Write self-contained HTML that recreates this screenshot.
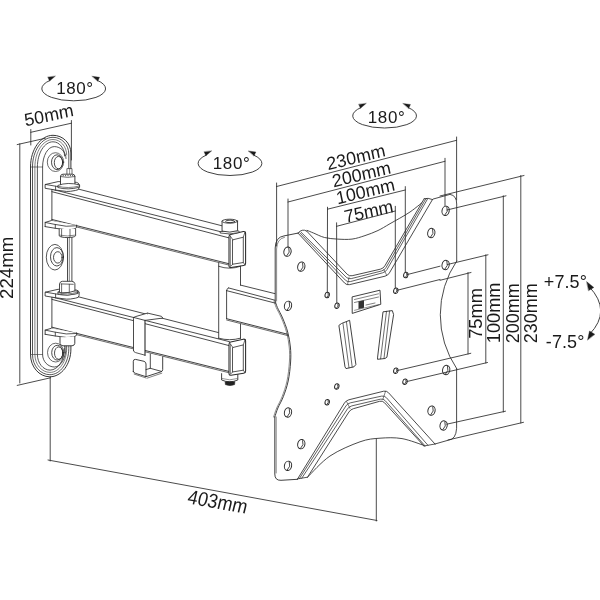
<!DOCTYPE html>
<html><head><meta charset="utf-8"><style>
html,body{margin:0;padding:0;background:#fff;width:600px;height:600px;overflow:hidden}
svg{display:block;-webkit-font-smoothing:antialiased;will-change:transform;font-family:"Liberation Sans",sans-serif}
text{fill:#1a1a1a;stroke:none}
</style></head><body>
<svg width="600" height="600" viewBox="0 0 600 600" fill="none" stroke="#2b2b2b" stroke-width="0.85" stroke-linejoin="round" stroke-linecap="round">
<rect x="0" y="0" width="600" height="600" fill="#fff" stroke="none"/>
<path d="M70.90,290 L70.90,349.00 C70.90,364.35 61.45,376.80 49.80,376.80 C39.15,376.80 30.50,366.81 30.50,354.50 L30.50,167.00 C30.50,149.50 40.58,135.30 53.00,135.30 C62.88,135.30 70.90,143.23 70.90,153.00 L70.90,186" stroke-width="0.95"/>
<path d="M68.80,290 L68.80,348.50 C68.80,362.96 60.33,374.70 49.90,374.70 C40.30,374.70 32.50,365.65 32.50,354.50 L32.50,167.00 C32.50,150.61 41.68,137.30 53.00,137.30 C61.72,137.30 68.80,144.78 68.80,154.00 L68.80,186" stroke-width="0.8"/>
<path d="M66.70,290 L66.70,348.00 C66.70,361.47 59.22,372.40 50.00,372.40 C41.66,372.40 34.90,364.38 34.90,354.50 L34.90,167.00 C34.90,151.82 43.01,139.50 53.00,139.50 C60.56,139.50 66.70,146.44 66.70,155.00" stroke-width="0.6"/>
<path d="M64.60,290 L64.60,347.50 C64.60,359.98 58.10,370.10 50.10,370.10 C43.09,370.10 37.40,363.11 37.40,354.50 L37.40,167.00 C37.40,153.09 44.39,141.80 53.00,141.80 C59.40,141.80 64.60,148.16 64.60,156.00" stroke-width="0.8"/>
<path d="M66.00,290 L66.00,347.00 C66.00,358.04 60.85,367.00 54.50,367.00 C47.93,367.00 42.60,361.40 42.60,354.50 L42.60,167.00 C42.60,155.74 47.84,146.60 54.30,146.60 C60.76,146.60 66.00,151.93 66.00,158.50" stroke-width="0.8"/>
<line x1="30.40" y1="167.00" x2="42.60" y2="167.00" stroke-width="0.6"/>
<line x1="30.40" y1="354.50" x2="42.60" y2="354.50" stroke-width="0.6"/>
<ellipse cx="55.50" cy="162.10" rx="8.20" ry="9.40" stroke-width="0.7"/>
<ellipse cx="57.10" cy="162.20" rx="5.60" ry="7.40" stroke-width="0.85"/>
<ellipse cx="58.50" cy="162.60" rx="4.20" ry="6.20" stroke-width="0.85"/>
<ellipse cx="54.90" cy="257.20" rx="8.60" ry="12.80" stroke-width="0.8"/>
<ellipse cx="56.90" cy="256.80" rx="6.40" ry="9.20" stroke-width="0.85"/>
<ellipse cx="57.80" cy="257.40" rx="4.30" ry="5.70" stroke-width="0.85"/>
<ellipse cx="55.70" cy="352.60" rx="8.20" ry="9.40" stroke-width="0.7"/>
<ellipse cx="57.30" cy="352.70" rx="5.60" ry="7.40" stroke-width="0.85"/>
<ellipse cx="58.70" cy="353.10" rx="4.20" ry="6.20" stroke-width="0.85"/>
<path d="M51.90,296.92 L56.00,291.07 L229.50,335.41 L229.50,372.97 L51.90,328.57 Z" fill="#fff" stroke-width="0"/>
<line x1="56.00" y1="291.07" x2="229.50" y2="335.41"/>
<line x1="51.90" y1="296.92" x2="229.50" y2="341.67"/>
<line x1="51.90" y1="299.37" x2="229.50" y2="345.72"/>
<line x1="51.90" y1="327.18" x2="229.50" y2="371.57" stroke-width="0.9"/>
<line x1="51.90" y1="328.48" x2="229.50" y2="372.88" stroke-width="0.7"/>
<line x1="51.90" y1="296.92" x2="51.90" y2="328.48"/>
<path d="M45.50,292.15 L58.10,289.30 L76.30,290.00 L78.40,290.75 L79.10,292.55 L79.10,295.35 L78.20,297.35 L75.60,298.15 L66.50,299.15 L55.60,297.75 L45.50,296.05 Z" fill="#fff" stroke-width="0"/>
<path d="M45.5,292.15 L58.1,289.30 L76.3,290.00 Q79.1,290.55 79.1,292.65 L79.1,295.35 Q79,297.95 75.6,298.15 Q70,299.35 66.5,299.15 L55.6,297.75 L45.5,296.05 Z" stroke-width="0.85"/>
<path d="M45.5,292.15 L55.6,293.90 L55.6,297.75" stroke-width="0.8"/>
<path d="M55.6,293.90 Q67,296.75 79.1,292.75" stroke-width="0.8"/>
<path d="M45.15,330.10 L51.10,328.35 L76.60,333.00 L76.60,335.30 L66.50,337.45 L55.30,336.00 L45.15,334.30 Z" fill="#fff" stroke-width="0"/>
<path d="M45.15,334.30 L45.15,330.10 L51.1,328.35" stroke-width="0.85"/>
<path d="M76.6,332.80 L76.6,334.90 Q76,337.40 66.5,337.45 L55.3,336.00 L45.15,334.30" stroke-width="0.85"/>
<path d="M45.15,330.10 L55.3,332.20 L55.3,336.00" stroke-width="0.8"/>
<path d="M55.3,332.20 Q66.5,335.10 76.6,333.50" stroke-width="0.8"/>
<path d="M221.6,373.6 L221.6,380.0 Q229.7,383.6 237.8,380.0 L237.8,373.6" fill="#fff" stroke-width="0.9"/>
<path d="M222.3,378.6 Q229.7,381.2 237.1,378.6" stroke-width="0.5"/>
<path d="M225.2,382 L225.4,384.6 Q230,386.6 234.6,384.6 L234.8,382 Z" fill="#222" stroke="#222" stroke-width="0.6"/>
<path d="M218.70,262.00 L240.50,262.00 L240.50,338.60 L229.60,340.20 L218.70,338.60 Z" fill="#fff" stroke-width="0"/>
<line x1="218.70" y1="262.00" x2="218.70" y2="338.40"/>
<line x1="240.50" y1="262.00" x2="240.50" y2="285.20"/>
<line x1="240.50" y1="324.30" x2="240.50" y2="338.40"/>
<path d="M218.7,338.2 Q229.6,341.3 240.5,338.2" stroke-width="0.85"/>
<path d="M229,344.30 Q229,342.60 230.7,342.10 L243.3,339.20 Q245.6,338.80 245.6,341.20 L245.6,371.00 Q245.6,373.00 243.6,373.30 L231.0,375.20 Q229,375.50 229,373.40 Z" fill="#fff" stroke-width="1.05"/>
<path d="M230.4,344.50 L230.4,373.30" stroke-width="0.6"/>
<path d="M232.9,347.50 L243.3,344.90 L243.3,370.20 L232.9,371.90 Z" fill="#fff" stroke-width="0.8"/>
<line x1="229.70" y1="343.00" x2="232.90" y2="347.50" stroke-width="0.7"/>
<line x1="245.00" y1="339.70" x2="243.30" y2="344.90" stroke-width="0.7"/>
<line x1="245.00" y1="372.60" x2="243.30" y2="370.20" stroke-width="0.7"/>
<line x1="229.70" y1="374.70" x2="232.90" y2="371.90" stroke-width="0.7"/>
<path d="M226.60,290.00 L228.50,287.90 L274.50,298.20 L280.00,305.00 L280.00,333.00 L226.60,319.50 Z" fill="#fff" stroke-width="0"/>
<line x1="240.50" y1="285.10" x2="276.00" y2="293.90"/>
<line x1="228.50" y1="287.90" x2="276.00" y2="300.50"/>
<line x1="226.80" y1="290.70" x2="276.00" y2="303.30"/>
<line x1="226.60" y1="290.50" x2="226.60" y2="318.70"/>
<path d="M226.6,290.5 Q226.8,288.2 228.5,287.9" stroke-width="0.8"/>
<line x1="226.60" y1="318.70" x2="288.20" y2="334.40" stroke-width="0.9"/>
<line x1="226.60" y1="320.00" x2="288.20" y2="335.70" stroke-width="0.7"/>
<path d="M51.90,189.22 L56.00,183.37 L229.50,227.71 L229.50,265.27 L51.90,220.88 Z" fill="#fff" stroke-width="0"/>
<line x1="56.00" y1="183.37" x2="229.50" y2="227.71"/>
<line x1="51.90" y1="189.22" x2="229.50" y2="233.97"/>
<line x1="51.90" y1="191.67" x2="229.50" y2="238.02"/>
<line x1="51.90" y1="219.47" x2="229.50" y2="263.88" stroke-width="0.9"/>
<line x1="51.90" y1="220.78" x2="229.50" y2="265.18" stroke-width="0.7"/>
<line x1="51.90" y1="189.22" x2="51.90" y2="220.78"/>
<path d="M45.50,184.45 L58.10,181.60 L76.30,182.30 L78.40,183.05 L79.10,184.85 L79.10,187.65 L78.20,189.65 L75.60,190.45 L66.50,191.45 L55.60,190.05 L45.50,188.35 Z" fill="#fff" stroke-width="0"/>
<path d="M45.5,184.45 L58.1,181.60 L76.3,182.30 Q79.1,182.85 79.1,184.95 L79.1,187.65 Q79,190.25 75.6,190.45 Q70,191.65 66.5,191.45 L55.6,190.05 L45.5,188.35 Z" stroke-width="0.85"/>
<path d="M45.5,184.45 L55.6,186.20 L55.6,190.05" stroke-width="0.8"/>
<path d="M55.6,186.20 Q67,189.05 79.1,185.05" stroke-width="0.8"/>
<path d="M45.15,222.40 L51.10,220.65 L76.60,225.30 L76.60,227.60 L66.50,229.75 L55.30,228.30 L45.15,226.60 Z" fill="#fff" stroke-width="0"/>
<path d="M45.15,226.60 L45.15,222.40 L51.1,220.65" stroke-width="0.85"/>
<path d="M76.6,225.10 L76.6,227.20 Q76,229.70 66.5,229.75 L55.3,228.30 L45.15,226.60" stroke-width="0.85"/>
<path d="M45.15,222.40 L55.3,224.50 L55.3,228.30" stroke-width="0.8"/>
<path d="M55.3,224.50 Q66.5,227.40 76.6,225.80" stroke-width="0.8"/>
<path d="M229,236.60 Q229,234.90 230.7,234.40 L243.3,231.50 Q245.6,231.10 245.6,233.50 L245.6,263.30 Q245.6,265.30 243.6,265.60 L231.0,267.50 Q229,267.80 229,265.70 Z" fill="#fff" stroke-width="1.05"/>
<path d="M230.4,236.80 L230.4,265.60" stroke-width="0.6"/>
<path d="M232.9,239.80 L243.3,237.20 L243.3,262.50 L232.9,264.20 Z" fill="#fff" stroke-width="0.8"/>
<line x1="229.70" y1="235.30" x2="232.90" y2="239.80" stroke-width="0.7"/>
<line x1="245.00" y1="232.00" x2="243.30" y2="237.20" stroke-width="0.7"/>
<line x1="245.00" y1="264.90" x2="243.30" y2="262.50" stroke-width="0.7"/>
<line x1="229.70" y1="267.00" x2="232.90" y2="264.20" stroke-width="0.7"/>
<path d="M218.7,266.3 Q229.6,270.2 240.5,266.3" stroke-width="0.8"/>
<path d="M220.50,231.70 Q229.80,228.70 239.10,231.10 L239.10,232.50 Q229.80,235.10 220.50,233.10 Z" fill="#fff" stroke-width="0.75"/>
<path d="M222.05,221.2 L222.05,231.10 Q229.80,233.30 237.55,230.70 L237.55,221.2 Z" fill="#fff" stroke-width="0.9"/>
<ellipse cx="229.80" cy="221.20" rx="7.75" ry="2.00" stroke-width="0.85" fill="#fff"/>
<ellipse cx="230.10" cy="221.40" rx="4.50" ry="1.25" stroke-width="0.9"/>
<path d="M133.50,318.20 L135.00,316.90 L147.50,313.10 L161.30,316.30 L162.50,318.10 L145.00,320.40 L145.00,355.20 L135.50,352.40 L133.50,350.80 Z" fill="#fff" stroke-width="0"/>
<path d="M133.5,350.6 L133.5,318.3 Q133.8,317 135.2,316.7 L147.5,313.1 L161.3,316.3 Q162.6,316.9 162.5,318.1 L145,320.4 L133.5,317.4" stroke-width="0.85"/>
<path d="M145,320.4 L145,355.2" stroke-width="1.1"/>
<path d="M133.5,350.6 Q133.7,352.2 135.6,352.6 L145,355.2" stroke-width="0.8"/>
<line x1="147.50" y1="313.10" x2="147.50" y2="314.00" stroke-width="0.5"/>
<path d="M133.30,361.00 L135.50,359.30 L144.00,361.30 L146.00,363.50 L146.00,376.70 L162.70,371.30 L162.70,356.70 L150.30,354.00 L150.30,368.30 L146.00,369.50 L146.00,376.70 L135.60,373.30 L133.30,371.50 Z" fill="#fff" stroke-width="0"/>
<path d="M133.3,371.5 L133.3,361.2 Q133.4,359.2 135.6,359.4 L144,361.3 Q146,362 146,364 L146,376.7 L135.6,373.4 Q133.4,372.8 133.3,371.5 Z" stroke-width="0.9"/>
<line x1="134.20" y1="374.10" x2="145.80" y2="377.90" stroke-width="0.6"/>
<path d="M146,376.7 L161,371.8 Q162.7,371.2 162.7,369.6 L162.7,356.7" stroke-width="0.9"/>
<line x1="147.00" y1="378.20" x2="161.80" y2="373.20" stroke-width="0.6"/>
<path d="M150.3,354 L150.3,368.3 L146,369.6 M150.3,368.3 L161.5,371.4" stroke-width="0.85"/>
<path d="M275.2,301 L275.2,248 Q275.4,237.2 284,235.9 L298,233.1 L307.2,230.4 C308.28,230.85 310.82,231.92 313.70,233.10 C316.58,234.28 320.53,236.50 324.50,237.50 C328.47,238.50 332.92,238.83 337.50,239.10 C342.08,239.37 347.42,239.68 352.00,239.10 C356.58,238.52 360.67,237.03 365.00,235.60 C369.33,234.17 373.83,232.48 378.00,230.50 C382.17,228.52 384.67,226.78 390.00,223.70 C395.33,220.62 403.88,216.17 410.00,212.00 C416.12,207.83 423.92,200.92 426.70,198.70 L433.3,199 L450,194.4 Q456.7,195.5 456.7,204 L456.7,261  A96,96 0 0 0 456.6,368.5 L456.6,428.3 Q456,439.5 448.3,440.2 L435,444 L425,445.8 C421.17,444.60 409.50,439.87 402.00,438.60 C394.50,437.33 387.00,437.67 380.00,438.20 C373.00,438.73 368.33,438.83 360.00,441.80 C351.67,444.77 338.75,450.10 330.00,456.00 C321.25,461.90 311.25,473.67 307.50,477.20 L297.6,479.3 L281,480.3 Q274.8,480.6 274.8,474 L274.8,417 C275.32,415.50 276.48,411.38 277.90,408.00 C279.32,404.62 281.58,401.20 283.30,396.70 C285.02,392.20 286.98,386.78 288.20,381.00 C289.42,375.22 290.23,367.67 290.60,362.00 C290.97,356.33 290.88,352.00 290.40,347.00 C289.92,342.00 289.00,336.83 287.70,332.00 C286.40,327.17 284.32,322.08 282.60,318.00 C280.88,313.92 278.63,310.33 277.40,307.50 C276.17,304.67 275.57,302.08 275.20,301.00 Z" fill="#fff" stroke="none"/>
<path d="M275.2,301 L275.2,248 Q275.4,237.2 284,235.9 L298,233.1" stroke-width="0.9"/>
<path d="M276.6,301 L276.6,249 Q276.8,239 284.5,237.3" stroke-width="0.55"/>
<path d="M307.20,230.40 C308.28,230.85 310.82,231.92 313.70,233.10 C316.58,234.28 320.53,236.50 324.50,237.50 C328.47,238.50 332.92,238.83 337.50,239.10 C342.08,239.37 347.42,239.68 352.00,239.10 C356.58,238.52 360.67,237.03 365.00,235.60 C369.33,234.17 373.83,232.48 378.00,230.50 C382.17,228.52 384.67,226.78 390.00,223.70 C395.33,220.62 403.88,216.17 410.00,212.00 C416.12,207.83 423.92,200.92 426.70,198.70" stroke-width="0.85"/>
<path d="M433.3,199 L450,194.4 Q456.7,195.5 456.7,204 L456.7,261" stroke-width="0.85"/>
<path d="M456.7,261 A96,96 0 0 0 456.6,368.5" stroke-width="0.85"/>
<path d="M456.6,368.5 L456.6,428.3 Q456,439.5 448.3,440.2 L435,444" stroke-width="0.85"/>
<path d="M425.00,445.80 C421.17,444.60 409.50,439.87 402.00,438.60 C394.50,437.33 387.00,437.67 380.00,438.20 C373.00,438.73 368.33,438.83 360.00,441.80 C351.67,444.77 338.75,450.10 330.00,456.00 C321.25,461.90 311.25,473.67 307.50,477.20" stroke-width="0.85"/>
<path d="M297.6,479.3 L281,480.3 Q274.8,480.6 274.8,474 L274.8,417" stroke-width="0.9"/>
<path d="M276.2,473 L276.2,417" stroke-width="0.55"/>
<path d="M274.80,417.00 C275.32,415.50 276.48,411.38 277.90,408.00 C279.32,404.62 281.58,401.20 283.30,396.70 C285.02,392.20 286.98,386.78 288.20,381.00 C289.42,375.22 290.23,367.67 290.60,362.00 C290.97,356.33 290.88,352.00 290.40,347.00 C289.92,342.00 289.00,336.83 287.70,332.00 C286.40,327.17 284.32,322.08 282.60,318.00 C280.88,313.92 278.63,310.33 277.40,307.50 C276.17,304.67 275.57,302.08 275.20,301.00" stroke-width="0.9"/>
<path d="M273.60,417.00 C274.12,415.50 275.28,411.38 276.70,408.00 C278.12,404.62 280.38,401.20 282.10,396.70 C283.82,392.20 285.78,386.78 287.00,381.00 C288.22,375.22 289.03,367.67 289.40,362.00 C289.77,356.33 289.68,352.00 289.20,347.00 C288.72,342.00 287.80,336.83 286.50,332.00 C285.20,327.17 283.12,322.08 281.40,318.00 C279.68,313.92 277.43,310.33 276.20,307.50 C274.97,304.67 274.37,302.08 274.00,301.00" stroke-width="0.55"/>
<ellipse cx="287.50" cy="251.70" rx="3.60" ry="4.70" stroke-width="1.0" transform="rotate(12 287.5 251.7)"/>
<path d="M288.10,247.90 Q290.74,251.70 287.80,255.70" stroke-width="0.8" transform="rotate(12 287.5 251.7)"/>
<ellipse cx="301.30" cy="266.70" rx="3.60" ry="4.70" stroke-width="1.0" transform="rotate(12 301.3 266.7)"/>
<path d="M301.90,262.90 Q304.54,266.70 301.60,270.70" stroke-width="0.8" transform="rotate(12 301.3 266.7)"/>
<ellipse cx="288.00" cy="305.80" rx="3.60" ry="4.70" stroke-width="1.0" transform="rotate(12 288 305.8)"/>
<path d="M288.60,302.00 Q291.24,305.80 288.30,309.80" stroke-width="0.8" transform="rotate(12 288 305.8)"/>
<ellipse cx="288.00" cy="412.50" rx="3.60" ry="4.70" stroke-width="1.0" transform="rotate(12 288 412.5)"/>
<path d="M288.60,408.70 Q291.24,412.50 288.30,416.50" stroke-width="0.8" transform="rotate(12 288 412.5)"/>
<ellipse cx="301.30" cy="444.20" rx="3.60" ry="4.70" stroke-width="1.0" transform="rotate(12 301.3 444.2)"/>
<path d="M301.90,440.40 Q304.54,444.20 301.60,448.20" stroke-width="0.8" transform="rotate(12 301.3 444.2)"/>
<ellipse cx="288.00" cy="465.80" rx="3.60" ry="4.70" stroke-width="1.0" transform="rotate(12 288 465.8)"/>
<path d="M288.60,462.00 Q291.24,465.80 288.30,469.80" stroke-width="0.8" transform="rotate(12 288 465.8)"/>
<ellipse cx="445.60" cy="210.80" rx="3.60" ry="4.70" stroke-width="1.0" transform="rotate(12 445.6 210.8)"/>
<path d="M446.20,207.00 Q448.84,210.80 445.90,214.80" stroke-width="0.8" transform="rotate(12 445.6 210.8)"/>
<ellipse cx="431.30" cy="233.00" rx="3.60" ry="4.70" stroke-width="1.0" transform="rotate(12 431.3 233)"/>
<path d="M431.90,229.20 Q434.54,233.00 431.60,237.00" stroke-width="0.8" transform="rotate(12 431.3 233)"/>
<ellipse cx="445.60" cy="265.00" rx="3.60" ry="4.70" stroke-width="1.0" transform="rotate(12 445.6 265)"/>
<path d="M446.20,261.20 Q448.84,265.00 445.90,269.00" stroke-width="0.8" transform="rotate(12 445.6 265)"/>
<ellipse cx="446.20" cy="370.00" rx="3.60" ry="4.70" stroke-width="1.0" transform="rotate(12 446.2 370)"/>
<path d="M446.80,366.20 Q449.44,370.00 446.50,374.00" stroke-width="0.8" transform="rotate(12 446.2 370)"/>
<ellipse cx="431.50" cy="410.60" rx="3.60" ry="4.70" stroke-width="1.0" transform="rotate(12 431.5 410.6)"/>
<path d="M432.10,406.80 Q434.74,410.60 431.80,414.60" stroke-width="0.8" transform="rotate(12 431.5 410.6)"/>
<ellipse cx="443.60" cy="425.50" rx="3.60" ry="4.70" stroke-width="1.0" transform="rotate(12 443.6 425.5)"/>
<path d="M444.20,421.70 Q446.84,425.50 443.90,429.50" stroke-width="0.8" transform="rotate(12 443.6 425.5)"/>
<ellipse cx="327.20" cy="295.00" rx="2.20" ry="2.80" stroke-width="1.0" transform="rotate(12 327.2 295)"/>
<path d="M327.80,293.10 Q329.18,295.00 327.50,297.10" stroke-width="0.8" transform="rotate(12 327.2 295)"/>
<ellipse cx="337.00" cy="305.80" rx="2.20" ry="2.80" stroke-width="1.0" transform="rotate(12 337 305.8)"/>
<path d="M337.60,303.90 Q338.98,305.80 337.30,307.90" stroke-width="0.8" transform="rotate(12 337 305.8)"/>
<ellipse cx="405.80" cy="275.00" rx="2.20" ry="2.80" stroke-width="1.0" transform="rotate(12 405.8 275)"/>
<path d="M406.40,273.10 Q407.78,275.00 406.10,277.10" stroke-width="0.8" transform="rotate(12 405.8 275)"/>
<ellipse cx="395.80" cy="290.80" rx="2.20" ry="2.80" stroke-width="1.0" transform="rotate(12 395.8 290.8)"/>
<path d="M396.40,288.90 Q397.78,290.80 396.10,292.90" stroke-width="0.8" transform="rotate(12 395.8 290.8)"/>
<ellipse cx="336.80" cy="386.50" rx="2.20" ry="2.80" stroke-width="1.0" transform="rotate(12 336.8 386.5)"/>
<path d="M337.40,384.60 Q338.78,386.50 337.10,388.60" stroke-width="0.8" transform="rotate(12 336.8 386.5)"/>
<ellipse cx="327.20" cy="402.20" rx="2.20" ry="2.80" stroke-width="1.0" transform="rotate(12 327.2 402.2)"/>
<path d="M327.80,400.30 Q329.18,402.20 327.50,404.30" stroke-width="0.8" transform="rotate(12 327.2 402.2)"/>
<ellipse cx="395.80" cy="370.80" rx="2.20" ry="2.80" stroke-width="1.0" transform="rotate(12 395.8 370.8)"/>
<path d="M396.40,368.90 Q397.78,370.80 396.10,372.90" stroke-width="0.8" transform="rotate(12 395.8 370.8)"/>
<ellipse cx="405.00" cy="381.70" rx="2.20" ry="2.80" stroke-width="1.0" transform="rotate(12 405 381.7)"/>
<path d="M405.60,379.80 Q406.98,381.70 405.30,383.80" stroke-width="0.8" transform="rotate(12 405 381.7)"/>
<path d="M298,233.1 L346.7,285.3 L387.9,275.5 L432.5,199.5 L424.2,198.7 L383.3,268.5 L349.2,276.4 L306.6,231 Q303,228.6 298,233.1 Z" fill="#fff" stroke="none"/>
<path d="M298.00,233.10 L344.65,283.11 Q346.70,285.30 349.62,284.61 L384.98,276.19 Q387.90,275.50 389.42,272.91 L432.50,199.50" stroke-width="0.85"/>
<path d="M299.63,232.70 L345.44,280.20 Q347.52,282.36 350.42,281.58 L382.71,272.79 Q385.60,272.00 387.09,269.40 L427.52,199.02" stroke-width="0.75"/>
<path d="M301.18,232.32 L346.25,277.22 Q348.38,279.34 351.28,278.60 L381.54,270.98 Q384.45,270.25 385.95,267.65 L425.78,198.85" stroke-width="0.75"/>
<path d="M306.60,231.00 L347.15,274.21 Q349.20,276.40 352.12,275.72 L380.38,269.18 Q383.30,268.50 384.82,265.91 L424.20,198.70" stroke-width="0.85"/>
<path d="M298,233.1 Q302,228.2 306.6,231" stroke-width="0.85"/>
<line x1="347.60" y1="284.00" x2="349.00" y2="277.20" stroke-width="0.6"/>
<line x1="386.60" y1="275.00" x2="383.90" y2="269.60" stroke-width="0.6"/>
<path d="M424.2,198.7 Q428,197.5 432.5,199.5" stroke-width="0.85"/>
<path d="M297.6,478.9 L346,400.5 L386.5,390.5 L435,444 L424,446 L382.5,400.5 L350.5,409.5 L307.5,477.2 Z" fill="#fff" stroke="none"/>
<path d="M297.60,478.90 L344.42,403.05 Q346.00,400.50 348.91,399.78 L383.59,391.22 Q386.50,390.50 388.51,392.72 L435.00,444.00" stroke-width="0.85"/>
<path d="M299.38,478.59 L345.87,406.00 Q347.49,403.47 350.42,402.84 L381.57,396.13 Q384.50,395.50 386.47,397.76 L427.96,445.28" stroke-width="0.75"/>
<path d="M301.76,478.19 L347.36,409.03 Q349.01,406.53 351.94,405.85 L380.38,399.18 Q383.30,398.50 385.28,400.75 L424.99,445.82" stroke-width="0.75"/>
<path d="M307.50,477.20 L348.89,412.03 Q350.50,409.50 353.39,408.69 L379.61,401.31 Q382.50,400.50 384.52,402.72 L424.00,446.00" stroke-width="0.85"/>
<path d="M297.6,478.9 L307.5,477.2" stroke-width="0.8"/>
<line x1="346.60" y1="401.60" x2="350.00" y2="408.30" stroke-width="0.6"/>
<line x1="385.50" y1="391.40" x2="382.90" y2="399.30" stroke-width="0.6"/>
<path d="M424,446 L435,444" stroke-width="0.8"/>
<path d="M352.50,296.80 L380.00,290.20 L380.80,304.30 L352.60,313.30 Z" fill="#fff" stroke-width="0.9"/>
<line x1="354.50" y1="299.50" x2="378.50" y2="293.80" stroke-width="0.6"/>
<line x1="354.50" y1="302.50" x2="378.50" y2="297.00" stroke-width="0.6"/>
<path d="M358.5,301.5 L364,300.3 L364,307.8 L358.5,309 Z" fill="#333" stroke="none"/>
<line x1="366.00" y1="305.00" x2="375.00" y2="303.00" stroke-width="0.6"/>
<line x1="354.50" y1="310.30" x2="378.50" y2="304.60" stroke-width="0.5"/>
<path d="M339.20,325.20 L341.50,323.50 L349.60,320.30 L355.90,364.50 L354.00,366.80 L346.00,368.60 L345.20,367.20 Z" fill="#fff" stroke-width="0.9"/>
<line x1="343.00" y1="323.60" x2="349.00" y2="367.80" stroke-width="0.7"/>
<line x1="346.50" y1="322.30" x2="352.20" y2="367.00" stroke-width="0.7"/>
<path d="M383.40,311.80 L392.30,310.60 L393.60,314.60 L386.90,357.20 L385.00,358.50 L377.50,359.30 L377.60,357.50 Z" fill="#fff" stroke-width="0.9"/>
<line x1="386.50" y1="311.30" x2="380.60" y2="358.80" stroke-width="0.7"/>
<line x1="389.60" y1="311.00" x2="384.00" y2="358.30" stroke-width="0.7"/>
<path d="M67.50,236.00 L71.90,236.00 L71.90,283.00 L67.50,283.00 Z" fill="#fff" stroke-width="0"/>
<line x1="67.50" y1="236.00" x2="67.50" y2="283.00" stroke-width="0.85"/>
<line x1="71.90" y1="236.00" x2="71.90" y2="283.00" stroke-width="0.85"/>
<line x1="69.30" y1="236.00" x2="69.30" y2="283.00" stroke-width="0.6"/>
<path d="M67.30,168.60 L72.00,168.60 L72.00,176.00 L67.30,176.00 Z" fill="#fff" stroke-width="0.7"/>
<line x1="69.60" y1="168.60" x2="69.60" y2="174.00" stroke-width="0.5"/>
<path d="M60.5,185.2 L60.5,176.2 Q60.8,174.3 63,174.2 L72.4,174.2 Q74.7,174.3 74.9,176.2 L74.9,185.2 Q67.7,187.4 60.5,185.2 Z" fill="#fff" stroke-width="0.9"/>
<path d="M60.6,176.6 Q67.7,178.2 74.8,176.6" stroke-width="0.7"/>
<rect x="62.70" y="175.0" width="1.0" height="1.2" fill="#555" stroke="none"/>
<rect x="65.10" y="175.0" width="1.0" height="1.2" fill="#555" stroke="none"/>
<rect x="67.50" y="175.0" width="1.0" height="1.2" fill="#555" stroke="none"/>
<rect x="69.90" y="175.0" width="1.0" height="1.2" fill="#555" stroke="none"/>
<rect x="72.10" y="175.0" width="1.0" height="1.2" fill="#555" stroke="none"/>
<path d="M58.2,185.3 Q67.7,181.8 79.6,184.9 L79.6,187.2 Q67.7,190.4 58.2,187.6 Z" fill="#fff" stroke-width="0.8"/>
<path d="M58.3,186.3 Q67.7,189.0 79.5,186.0" stroke-width="0.6"/>
<path d="M59.20,229.00 L59.20,235.80 Q60.20,237.40 67.40,237.60 Q74.60,237.40 75.60,235.80 L75.60,229.00" fill="#fff" stroke-width="0.85"/>
<line x1="61.60" y1="229.30" x2="61.60" y2="236.50" stroke-width="0.7"/>
<line x1="70.00" y1="229.30" x2="70.00" y2="237.10" stroke-width="0.7"/>
<path d="M59.80,235.20 Q67.40,236.80 75.00,235.20" stroke-width="0.55"/>
<path d="M58.30,291.70 Q67.20,288.80 77.50,291.20 L77.50,293.60 Q67.20,296.60 58.30,294.20 Z" fill="#fff" stroke-width="0.8"/>
<path d="M58.30,292.60 Q67.20,295.40 77.50,292.20" stroke-width="0.6"/>
<path d="M59.50,292.00 L59.50,283.70 Q60.30,281.30 62.30,281.30 L71.50,281.30 Q74.30,281.30 74.90,283.70 L74.90,290.80 L69.30,292.40 L61.60,292.80 Z" fill="#fff" stroke-width="0.85"/>
<path d="M60.90,283.90 L73.30,284.30" stroke-width="0.7"/>
<line x1="61.60" y1="284.00" x2="61.60" y2="292.80" stroke-width="0.7"/>
<line x1="69.30" y1="284.30" x2="69.30" y2="292.40" stroke-width="0.7"/>
<path d="M60.0,337.4 L60.0,343.4 Q60.4,345.6 63,345.8 L72,345.8 Q74.6,345.6 74.8,343.4 L74.8,336.6" fill="#fff" stroke-width="0.9"/>
<path d="M49.92,80.44 A32,12.2 0 1 0 97.48,80.44" stroke-width="0.9"/>
<path d="M55.20,76.30 L49.56,81.12 L47.84,77.28 Z" stroke-width="0.35" fill="#1a1a1a"/>
<path d="M92.20,76.30 L99.56,77.28 L97.84,81.12 Z" stroke-width="0.35" fill="#1a1a1a"/>
<text x="56.20" y="93.50" font-size="17" letter-spacing="0.6" text-anchor="start">180°</text>
<path d="M206.22,155.14 A32,12.2 0 1 0 253.78,155.14" stroke-width="0.9"/>
<path d="M211.50,151.00 L205.86,155.82 L204.14,151.98 Z" stroke-width="0.35" fill="#1a1a1a"/>
<path d="M248.50,151.00 L255.86,151.98 L254.14,155.82 Z" stroke-width="0.35" fill="#1a1a1a"/>
<text x="212.80" y="168.80" font-size="17" letter-spacing="0.6" text-anchor="start">180°</text>
<path d="M360.82,107.64 A32,12.2 0 1 0 408.38,107.64" stroke-width="0.9"/>
<path d="M366.10,103.50 L360.46,108.32 L358.74,104.48 Z" stroke-width="0.35" fill="#1a1a1a"/>
<path d="M403.10,103.50 L410.46,104.48 L408.74,108.32 Z" stroke-width="0.35" fill="#1a1a1a"/>
<text x="367.80" y="122.60" font-size="17" letter-spacing="0.6" text-anchor="start">180°</text>
<line x1="30.80" y1="132.30" x2="71.40" y2="123.20"/>
<line x1="30.80" y1="129.50" x2="30.80" y2="145.00"/>
<line x1="71.40" y1="120.50" x2="71.40" y2="160.00"/>
<text x="0" y="0" font-size="18" transform="matrix(0.9763 -0.2164 0.1736 0.9848 25.60 126.60)">50mm</text>
<line x1="19.80" y1="143.80" x2="19.80" y2="383.00"/>
<line x1="17.20" y1="144.60" x2="45.20" y2="138.30"/>
<line x1="17.20" y1="385.40" x2="50.50" y2="377.80"/>
<text x="12.90" y="299.00" font-size="18.7" text-anchor="start" transform="rotate(-90 12.90 299.00)">224mm</text>
<line x1="50.20" y1="377.00" x2="50.20" y2="461.00"/>
<line x1="48.00" y1="460.00" x2="377.00" y2="520.50"/>
<line x1="376.30" y1="439.00" x2="376.30" y2="521.00"/>
<text x="0" y="0" font-size="18" transform="matrix(0.9848 0.1736 -0.2710 1.0867 186.60 503.20)">403mm</text>
<line x1="276.60" y1="183.00" x2="276.60" y2="246.00"/>
<line x1="276.60" y1="186.50" x2="456.60" y2="140.30"/>
<line x1="288.00" y1="199.00" x2="288.00" y2="247.50"/>
<line x1="288.00" y1="202.00" x2="445.00" y2="161.30"/>
<line x1="327.50" y1="207.20" x2="327.30" y2="292.50"/>
<line x1="327.50" y1="209.20" x2="405.30" y2="190.00"/>
<line x1="336.60" y1="222.80" x2="336.80" y2="303.00"/>
<line x1="336.60" y1="226.30" x2="395.30" y2="211.00"/>
<text x="0" y="0" font-size="18" transform="matrix(0.9711 -0.2385 0.1994 0.9799 328.00 170.30)">230mm</text>
<text x="0" y="0" font-size="18" transform="matrix(0.9711 -0.2385 0.1994 0.9799 333.50 187.50)">200mm</text>
<text x="0" y="0" font-size="18" transform="matrix(0.9711 -0.2385 0.1994 0.9799 337.50 204.50)">100mm</text>
<text x="0" y="0" font-size="18" transform="matrix(0.9751 -0.2215 0.1908 0.9816 345.50 223.00)">75mm</text>
<line x1="456.60" y1="137.00" x2="456.60" y2="200.00"/>
<line x1="445.00" y1="158.30" x2="445.00" y2="206.00"/>
<line x1="405.30" y1="186.60" x2="405.30" y2="272.00"/>
<line x1="395.30" y1="206.30" x2="395.30" y2="288.00"/>
<line x1="440.00" y1="196.00" x2="524.00" y2="175.50"/>
<line x1="520.80" y1="175.50" x2="520.80" y2="423.00"/>
<line x1="447.00" y1="210.00" x2="506.00" y2="195.80"/>
<line x1="503.30" y1="195.80" x2="503.30" y2="412.00"/>
<line x1="447.50" y1="264.50" x2="488.00" y2="254.80"/>
<line x1="485.80" y1="254.80" x2="485.80" y2="363.00"/>
<line x1="440.00" y1="280.30" x2="471.00" y2="272.50"/>
<line x1="468.00" y1="272.50" x2="468.00" y2="354.00"/>
<line x1="407.50" y1="274.50" x2="440.00" y2="266.20"/>
<line x1="397.50" y1="290.20" x2="440.00" y2="279.50"/>
<line x1="397.50" y1="370.50" x2="470.80" y2="353.30"/>
<line x1="407.00" y1="381.50" x2="487.50" y2="362.50"/>
<line x1="446.70" y1="424.20" x2="505.50" y2="411.20"/>
<line x1="448.00" y1="440.00" x2="523.50" y2="422.30"/>
<text x="482.40" y="338.80" font-size="18.3" text-anchor="start" transform="rotate(-90 482.40 338.80)">75mm</text>
<text x="500.20" y="343.20" font-size="18.2" text-anchor="start" transform="rotate(-90 500.20 343.20)">100mm</text>
<text x="519.40" y="343.30" font-size="18" text-anchor="start" transform="rotate(-90 519.40 343.30)">200mm</text>
<text x="536.70" y="343.30" font-size="18" text-anchor="start" transform="rotate(-90 536.70 343.30)">230mm</text>
<text x="543.80" y="288.00" font-size="18" letter-spacing="0.1" text-anchor="start">+7.5°</text>
<text x="545.80" y="347.80" font-size="18" letter-spacing="0.1" text-anchor="start">-7.5°</text>
<path d="M589.5,287 Q612,311 589.8,334" stroke-width="0.9"/>
<path d="M586.80,281.80 L593.83,287.44 L588.73,290.60 Z" stroke-width="0.4" fill="#1a1a1a"/>
<path d="M587.60,339.80 L589.53,331.00 L594.63,334.16 Z" stroke-width="0.4" fill="#1a1a1a"/>
</svg></body></html>
